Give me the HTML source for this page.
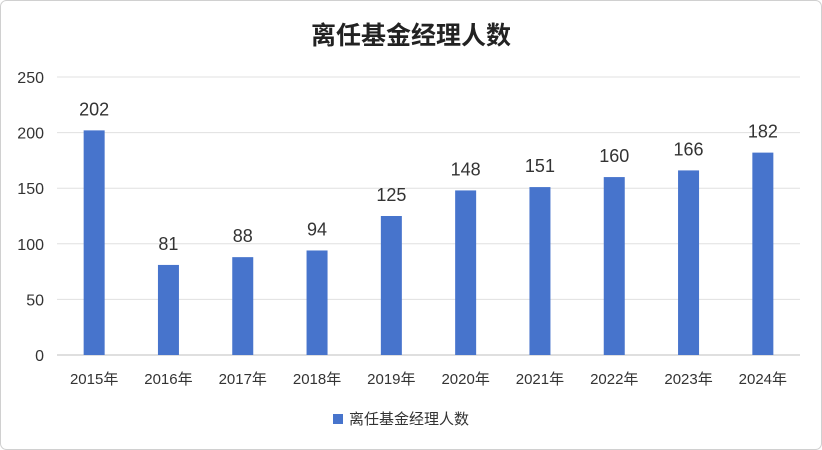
<!DOCTYPE html>
<html><head><meta charset="utf-8">
<style>
body{margin:0;background:#fff;}
svg{display:block;font-family:"Liberation Sans","Noto Sans CJK SC",sans-serif;}
</style></head>
<body>
<svg id="chart" width="822" height="450">
<rect x="0.5" y="0.5" width="821" height="449" rx="6" fill="#fff" stroke="#d0d0d0"/>
<text x="411" y="44" text-anchor="middle" font-size="25" font-weight="bold" fill="#222">离任基金经理人数</text>
<g id="grid"></g><g id="bars"></g><g id="labels"></g>
<g>
<rect x="333" y="414" width="10" height="10" fill="#4774cc"/>
<text x="349" y="424" font-size="15" fill="#333">离任基金经理人数</text>
</g>
</svg>
<script>
const categories=["2015年","2016年","2017年","2018年","2019年","2020年","2021年","2022年","2023年","2024年"];
const values=[202,81,88,94,125,148,151,160,166,182];
const yTicks=[0,50,100,150,200,250];
const ns="http://www.w3.org/2000/svg";
const x0=57,x1=800,yBase=355,yTop=77,yMax=250;
const band=(x1-x0)/categories.length;
const y=v=>yBase-(v/yMax)*(yBase-yTop);
const xc=i=>x0+band*(i+0.5);
function mk(tag,attrs,parent,txt){const e=document.createElementNS(ns,tag);for(const k in attrs)e.setAttribute(k,attrs[k]);if(txt!==undefined)e.textContent=txt;document.getElementById(parent).appendChild(e);return e;}
yTicks.forEach(t=>{
 const l=mk('line',{x1:x0,x2:x1,y1:y(t),y2:y(t),stroke:t===0?'#bfbfbf':'#e0e0e0','stroke-width':1},'grid');
 
 
 const tx=mk('text',{x:44,y:y(t)+6,'text-anchor':'end','font-size':16,fill:'#333'},'grid',String(t));
 
 
});
values.forEach((v,i)=>{
 const b=mk('rect',{x:xc(i)-10.5,y:y(v),width:21,height:yBase-y(v),fill:'#4774cc'},'bars');
 
 
 const vl=mk('text',{x:xc(i),y:y(v)-15,'text-anchor':'middle','font-size':18,fill:'#333'},'labels',String(v));
 
 
 const cl=mk('text',{x:xc(i),y:384,'text-anchor':'middle','font-size':15,fill:'#333'},'labels',categories[i]);
 
 
});
</script>
</body></html>
